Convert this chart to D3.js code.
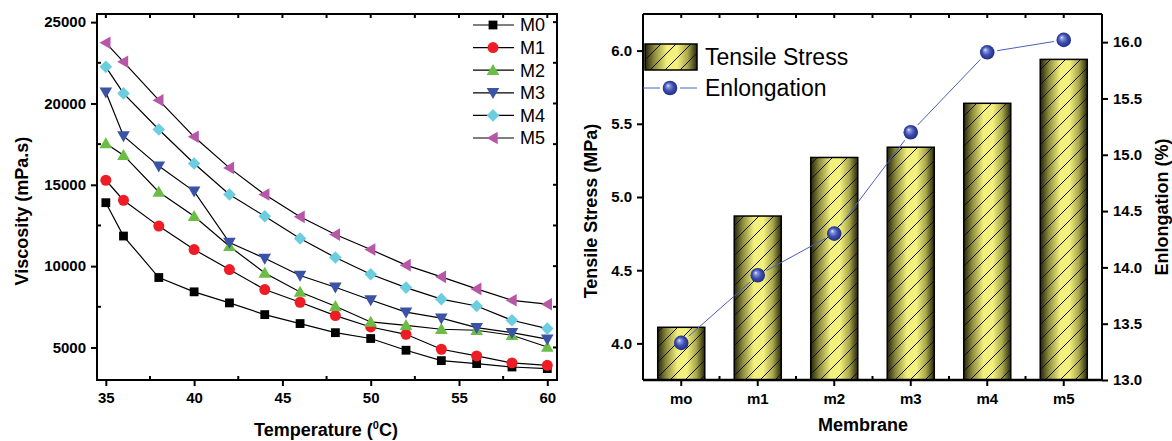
<!DOCTYPE html>
<html>
<head>
<meta charset="utf-8">
<script src="https://cdn.jsdelivr.net/npm/d3@7"></script>
<style>
  body { margin: 0; background: #fff; }
  svg { display: block; font-family: "Liberation Sans", Arial, sans-serif; }
</style>
</head>
<body>
<svg id="chart" width="1172" height="441"></svg>
<script>
// ---- data: viscosity vs temperature ----
var temps = [35, 36, 38, 40, 42, 44, 46, 48, 50, 52, 54, 56, 58, 60];
var m0 = [13900, 11850, 9300, 8420, 7740, 7020, 6470, 5910, 5550, 4830, 4190, 4010, 3800, 3700];
var m1 = [15280, 14050, 12460, 11020, 9790, 8560, 7780, 6960, 6260, 5810, 4890, 4480, 4050, 3900];
var m2 = [17540, 16820, 14560, 13070, 11220, 9580, 8410, 7530, 6570, 6360, 6120, 6060, 5750, 5030];
var m3 = [20700, 18000, 16150, 14600, 11450, 10480, 9420, 8700, 7920, 7170, 6800, 6220, 5910, 5510];
var m4 = [22250, 20620, 18400, 16310, 14400, 13070, 11700, 10530, 9500, 8680, 7970, 7550, 6670, 6160];
var m5 = [23730, 22560, 20200, 17950, 16040, 14400, 13030, 11940, 11020, 10060, 9340, 8600, 7900, 7660];
var seriesNames = ["M0", "M1", "M2", "M3", "M4", "M5"];
var seriesColors = ["#000000", "#ee1d25", "#6cbd45", "#3a53a4", "#6dcde0", "#b657a8"];
var seriesShapes = ["square", "circle", "triangle", "down", "diamond", "left"];
var viscTicks = [5000, 10000, 15000, 20000, 25000];
var tempTicks = [35, 40, 45, 50, 55, 60];

// ---- data: membranes ----
var membranes = ["mo", "m1", "m2", "m3", "m4", "m5"];
var stress = [4.11, 4.87, 5.27, 5.34, 5.64, 5.94];
var elong = [13.33, 13.93, 14.30, 15.20, 15.91, 16.02];
var stressTicks = [4.0, 4.5, 5.0, 5.5, 6.0];
var elongTicks = [13.0, 13.5, 14.0, 14.5, 15.0, 15.5, 16.0];

var svg = d3.select("#chart");
var FONT_TICK = "bold 15px 'Liberation Sans', Arial, sans-serif";

var defs = svg.append("defs");
var grad = defs.append("linearGradient").attr("id", "barGrad")
  .attr("x1", "0%").attr("x2", "100%").attr("y1", "0%").attr("y2", "0%");
[["0%", "#23230c"], ["18%", "#8c8a3c"], ["42%", "#f2ef7c"], ["62%", "#f4f17e"], ["82%", "#a9a74a"], ["100%", "#24240c"]]
  .forEach(function (s) { grad.append("stop").attr("offset", s[0]).attr("stop-color", s[1]); });
var hatch = defs.append("pattern").attr("id", "hatch").attr("patternUnits", "userSpaceOnUse")
  .attr("width", 15).attr("height", 15);
hatch.append("path").attr("d", "M-3,3 L3,-3 M0,15 L15,0 M12,18 L18,12")
  .attr("stroke", "#111").attr("stroke-width", 1);
var ball = defs.append("radialGradient").attr("id", "ball")
  .attr("cx", "50%").attr("cy", "50%").attr("r", "55%").attr("fx", "35%").attr("fy", "32%");
[["0%", "#f0f2ff"], ["18%", "#8d9be0"], ["55%", "#3d4eb0"], ["100%", "#1d2878"]]
  .forEach(function (s) { ball.append("stop").attr("offset", s[0]).attr("stop-color", s[1]); });

function frame(g, x0, x1, y0, y1) {
  g.append("rect").attr("x", x0).attr("y", y0).attr("width", x1 - x0).attr("height", y1 - y0)
    .attr("fill", "none").attr("stroke", "#000").attr("stroke-width", 2);
}

// ================= LEFT CHART =================
var L = { x0: 97, x1: 557, y0: 14, y1: 380 };
var xL = d3.scaleLinear().domain([34.5, 60.55]).range([L.x0, L.x1]);
var yL = d3.scaleLinear().domain([3000, 25500]).range([L.y1, L.y0]);
var gL = svg.append("g");

var axB = gL.append("g").attr("transform", "translate(0," + L.y1 + ")")
  .call(d3.axisBottom(xL).tickValues(tempTicks).tickSize(6).tickPadding(6).tickFormat(d3.format("d")));
var axLft = gL.append("g").attr("transform", "translate(" + L.x0 + ",0)")
  .call(d3.axisLeft(yL).tickValues(viscTicks).tickSize(6).tickPadding(5).tickFormat(d3.format("d")));
[axB, axLft].forEach(function (a) {
  a.select(".domain").remove();
  a.selectAll(".tick line").attr("stroke-width", 2);
  a.selectAll(".tick text").style("font", FONT_TICK).attr("fill", "#000");
});
// minor / mirrored ticks
var minorX = d3.range(37.5, 60, 5);
gL.selectAll(".mxb").data(minorX).enter().append("line")
  .attr("x1", xL).attr("x2", xL).attr("y1", L.y1).attr("y2", L.y1 - 4).attr("stroke", "#000").attr("stroke-width", 2);
gL.selectAll(".mxt").data(tempTicks.concat(minorX)).enter().append("line")
  .attr("x1", xL).attr("x2", xL).attr("y1", L.y0).attr("y2", L.y0 + 4).attr("stroke", "#000").attr("stroke-width", 2);
var minorY = d3.range(7500, 25000, 5000);
gL.selectAll(".myl").data(minorY).enter().append("line")
  .attr("y1", yL).attr("y2", yL).attr("x1", L.x0).attr("x2", L.x0 + 4).attr("stroke", "#000").attr("stroke-width", 2);
gL.selectAll(".myr").data(viscTicks.concat(minorY)).enter().append("line")
  .attr("y1", yL).attr("y2", yL).attr("x1", L.x1).attr("x2", L.x1 - 4).attr("stroke", "#000").attr("stroke-width", 2);
frame(gL, L.x0, L.x1, L.y0, L.y1);

function marker(sel, shape, color) {
  if (shape === "circle") {
    sel.append("circle").attr("r", 5.5).attr("fill", color);
  } else if (shape === "square") {
    sel.append("rect").attr("x", -4.4).attr("y", -4.4).attr("width", 8.8).attr("height", 8.8).attr("fill", color);
  } else {
    var pts;
    if (shape === "triangle") pts = [[0, -6.3], [6.3, 4.7], [-6.3, 4.7]];
    else if (shape === "down") pts = [[0, 6.3], [6.3, -4.7], [-6.3, -4.7]];
    else if (shape === "left") pts = [[-6.3, 0], [4.7, -6.3], [4.7, 6.3]];
    else pts = [[0, -6.3], [6.3, 0], [0, 6.3], [-6.3, 0]];
    sel.append("polygon").attr("points", pts.map(function (p) { return p.join(","); }).join(" ")).attr("fill", color);
  }
}

var allSeries = [m0, m1, m2, m3, m4, m5];
var line = d3.line().x(function (d, i) { return xL(temps[i]); }).y(function (d) { return yL(d); });
allSeries.forEach(function (vals) {
  gL.append("path").attr("d", line(vals)).attr("fill", "none").attr("stroke", "#000").attr("stroke-width", 1.2);
});
allSeries.forEach(function (vals, k) {
  vals.forEach(function (v, i) {
    var m = gL.append("g").attr("transform", "translate(" + xL(temps[i]) + "," + yL(v) + ")");
    marker(m, seriesShapes[k], seriesColors[k]);
  });
});

// legend
seriesNames.forEach(function (n, k) {
  var y = 25 + k * 22.6;
  gL.append("line").attr("x1", 473).attr("x2", 514).attr("y1", y).attr("y2", y).attr("stroke", "#000").attr("stroke-width", 1.2);
  marker(gL.append("g").attr("transform", "translate(493," + y + ")"), seriesShapes[k], seriesColors[k]);
  gL.append("text").attr("x", 520).attr("y", y).attr("dy", "0.36em").style("font-size", "18px").text(n);
});

gL.append("text").attr("transform", "translate(28,211) rotate(-90)").attr("text-anchor", "middle")
  .style("font-weight", "bold").style("font-size", "18px").text("Viscosity (mPa.s)");
var tt = gL.append("text").attr("x", 326).attr("y", 436).attr("text-anchor", "middle")
  .style("font-weight", "bold").style("font-size", "18px");
tt.append("tspan").text("Temperature (");
tt.append("tspan").attr("dy", -7).style("font-size", "11px").text("0");
tt.append("tspan").attr("dy", 7).text("C)");

// ================= RIGHT CHART =================
var R = { x0: 643, x1: 1102, y0: 14, y1: 380 };
var xR = d3.scaleBand().domain(membranes).range([R.x0, R.x1]).paddingInner(0.385).paddingOuter(0.1925);
var yS = d3.scaleLinear().domain([3.75, 6.25]).range([R.y1, R.y0]);
var yE = d3.scaleLinear().domain([13.0, 16.25]).range([R.y1, R.y0]);
var gR = svg.append("g");

membranes.forEach(function (m, i) {
  var x = xR(m), w = xR.bandwidth(), y = yS(stress[i]);
  gR.append("rect").attr("x", x).attr("y", y).attr("width", w).attr("height", R.y1 - y).attr("fill", "url(#barGrad)");
  gR.append("rect").attr("x", x).attr("y", y).attr("width", w).attr("height", R.y1 - y)
    .attr("fill", "url(#hatch)").attr("stroke", "#000").attr("stroke-width", 1.5);
});

var axRB = gR.append("g").attr("transform", "translate(0," + R.y1 + ")")
  .call(d3.axisBottom(xR).tickSize(6).tickPadding(7));
var axRL = gR.append("g").attr("transform", "translate(" + R.x0 + ",0)")
  .call(d3.axisLeft(yS).tickValues(stressTicks).tickSize(6).tickPadding(5).tickFormat(d3.format(".1f")));
var axRR = gR.append("g").attr("transform", "translate(" + R.x1 + ",0)")
  .call(d3.axisRight(yE).tickValues(elongTicks).tickSize(6).tickPadding(5).tickFormat(d3.format(".1f")));
[axRB, axRL, axRR].forEach(function (a) {
  a.select(".domain").remove();
  a.selectAll(".tick line").attr("stroke-width", 2);
  a.selectAll(".tick text").style("font", FONT_TICK).attr("fill", "#000");
});
var bounds = membranes.slice(1).map(function (m) { return xR(m) - xR.step() * xR.paddingInner() / 2; });
gR.selectAll(".bb").data(bounds).enter().append("line")
  .attr("x1", function (d) { return d; }).attr("x2", function (d) { return d; })
  .attr("y1", R.y1).attr("y2", R.y1 - 4).attr("stroke", "#000").attr("stroke-width", 2);
gR.selectAll(".bt").data(bounds.concat(membranes.map(function (m) { return xR(m) + xR.bandwidth() / 2; }))).enter().append("line")
  .attr("x1", function (d) { return d; }).attr("x2", function (d) { return d; })
  .attr("y1", R.y0).attr("y2", R.y0 + 4).attr("stroke", "#000").attr("stroke-width", 2);
gR.append("line").attr("x1", R.x0).attr("x2", R.x1).attr("y1", R.y1).attr("y2", R.y1).attr("stroke", "#000").attr("stroke-width", 2.5);
gR.append("line").attr("x1", R.x0).attr("x2", R.x1).attr("y1", R.y0).attr("y2", R.y0).attr("stroke", "#000").attr("stroke-width", 2);
gR.append("line").attr("x1", R.x0).attr("x2", R.x0).attr("y1", R.y0).attr("y2", R.y1).attr("stroke", "#000").attr("stroke-width", 2);
gR.append("line").attr("x1", R.x1).attr("x2", R.x1).attr("y1", R.y0).attr("y2", R.y1).attr("stroke", "#000").attr("stroke-width", 2);

// elongation line with gaps at markers
var pts = membranes.map(function (m, i) { return [xR(m) + xR.bandwidth() / 2, yE(elong[i])]; });
var gap = 10;
for (var i = 0; i < pts.length - 1; i++) {
  var a = pts[i], b = pts[i + 1];
  var dx = b[0] - a[0], dy = b[1] - a[1], len = Math.sqrt(dx * dx + dy * dy);
  var ux = dx / len, uy = dy / len;
  gR.append("line").attr("x1", a[0] + ux * gap).attr("y1", a[1] + uy * gap)
    .attr("x2", b[0] - ux * gap).attr("y2", b[1] - uy * gap)
    .attr("stroke", "#4a5fc0").attr("stroke-width", 1);
}
pts.forEach(function (p) {
  gR.append("circle").attr("cx", p[0]).attr("cy", p[1]).attr("r", 7.3).attr("fill", "url(#ball)");
});

// legend
gR.append("rect").attr("x", 645).attr("y", 44).attr("width", 52).attr("height", 26).attr("fill", "url(#barGrad)");
gR.append("rect").attr("x", 645).attr("y", 44).attr("width", 52).attr("height", 26)
  .attr("fill", "url(#hatch)").attr("stroke", "#000").attr("stroke-width", 1.5);
gR.append("text").attr("x", 705).attr("y", 57).attr("dy", "0.36em").style("font-size", "23px").text("Tensile Stress");
gR.append("line").attr("x1", 643).attr("x2", 660).attr("y1", 88).attr("y2", 88).attr("stroke", "#4a5fc0").attr("stroke-width", 1);
gR.append("line").attr("x1", 680).attr("x2", 697).attr("y1", 88).attr("y2", 88).attr("stroke", "#4a5fc0").attr("stroke-width", 1);
gR.append("circle").attr("cx", 670).attr("cy", 88).attr("r", 7.3).attr("fill", "url(#ball)");
gR.append("text").attr("x", 705).attr("y", 88).attr("dy", "0.36em").style("font-size", "23px").text("Enlongation");

gR.append("text").attr("transform", "translate(597,211) rotate(-90)").attr("text-anchor", "middle")
  .style("font-weight", "bold").style("font-size", "18px").text("Tensile Stress (MPa)");
gR.append("text").attr("transform", "translate(1168,207) rotate(-90)").attr("text-anchor", "middle")
  .style("font-weight", "bold").style("font-size", "18px").text("Enlongation (%)");
gR.append("text").attr("x", 863).attr("y", 431).attr("text-anchor", "middle")
  .style("font-weight", "bold").style("font-size", "18px").text("Membrane");
</script>
</body>
</html>
